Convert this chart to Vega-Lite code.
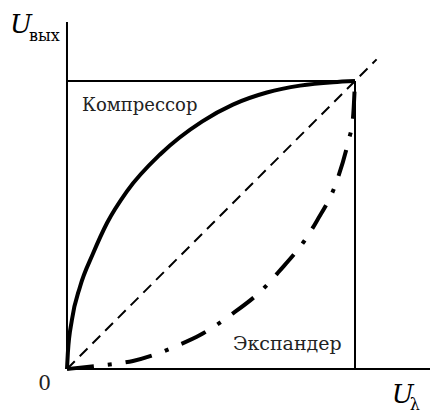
{
  "$schema": "https://vega.github.io/schema/vega-lite/v6.json",
  "width": 430,
  "height": 411,
  "padding": 0,
  "autosize": {"type": "none"},
  "background": "white",
  "config": {"view": {"stroke": null}},
  "datasets": {
    "frame": [
      {"x": 0, "y": 0, "x2": 0, "y2": 1.205},
      {"x": 0, "y": 0, "x2": 1.27, "y2": 0},
      {"x": 0, "y": 1, "x2": 1, "y2": 1},
      {"x": 1, "y": 0, "x2": 1, "y2": 1}
    ],
    "diag": [
      {"x": 0, "y": 0},
      {"x": 1.075, "y": 1.075}
    ],
    "compressor": [
      {"x": 0, "y": 0},
      {"x": 0.003, "y": 0.056},
      {"x": 0.017, "y": 0.17},
      {"x": 0.045, "y": 0.285},
      {"x": 0.09, "y": 0.4},
      {"x": 0.139, "y": 0.507},
      {"x": 0.208, "y": 0.617},
      {"x": 0.323, "y": 0.745},
      {"x": 0.47, "y": 0.86},
      {"x": 0.576, "y": 0.918},
      {"x": 0.694, "y": 0.96},
      {"x": 0.809, "y": 0.984},
      {"x": 0.924, "y": 0.996},
      {"x": 1, "y": 1}
    ],
    "expander": [
      {"x": 0, "y": 0},
      {"x": 0.097, "y": 0.01},
      {"x": 0.16, "y": 0.017},
      {"x": 0.229, "y": 0.028},
      {"x": 0.316, "y": 0.054},
      {"x": 0.375, "y": 0.078},
      {"x": 0.462, "y": 0.118},
      {"x": 0.569, "y": 0.188},
      {"x": 0.688, "y": 0.285},
      {"x": 0.733, "y": 0.335},
      {"x": 0.833, "y": 0.458},
      {"x": 0.868, "y": 0.515},
      {"x": 0.938, "y": 0.656},
      {"x": 0.976, "y": 0.788},
      {"x": 0.993, "y": 0.872},
      {"x": 1, "y": 1}
    ],
    "labels": [
      {"x": -0.198, "y": 1.1667, "t": "U", "kind": "bigU"},
      {"x": -0.132, "y": 1.139, "t": "вых", "kind": "sub"},
      {"x": 1.128, "y": -0.118, "t": "U", "kind": "bigU"},
      {"x": 1.19, "y": -0.142, "t": "λ", "kind": "sub"},
      {"x": -0.1, "y": -0.073, "t": "0", "kind": "zero"},
      {"x": 0.052, "y": 0.896, "t": "Компрессор", "kind": "comp"},
      {"x": 0.576, "y": 0.066, "t": "Экспандер", "kind": "exp"}
    ]
  },
  "layer": [
    {
      "data": {"name": "frame"},
      "mark": {"type": "rule", "color": "black", "strokeWidth": 2},
      "encoding": {
        "x": {"field": "x", "type": "quantitative", "scale": {"domain": [-0.2326, 1.2604], "nice": false, "zero": false}, "axis": null},
        "y": {"field": "y", "type": "quantitative", "scale": {"domain": [-0.1458, 1.28125], "nice": false, "zero": false}, "axis": null},
        "x2": {"field": "x2"},
        "y2": {"field": "y2"}
      }
    },
    {
      "data": {"name": "diag"},
      "mark": {"type": "line", "color": "black", "strokeWidth": 2, "strokeDash": [11, 7]},
      "encoding": {
        "x": {"field": "x", "type": "quantitative"},
        "y": {"field": "y", "type": "quantitative"}
      }
    },
    {
      "data": {"name": "compressor"},
      "mark": {"type": "line", "color": "black", "strokeWidth": 4, "interpolate": "monotone"},
      "encoding": {
        "x": {"field": "x", "type": "quantitative"},
        "y": {"field": "y", "type": "quantitative"}
      }
    },
    {
      "data": {"name": "expander"},
      "mark": {"type": "line", "color": "black", "strokeWidth": 4, "interpolate": "monotone", "strokeDash": [27, 14, 4, 14]},
      "encoding": {
        "x": {"field": "x", "type": "quantitative"},
        "y": {"field": "y", "type": "quantitative"}
      }
    },
    {
      "data": {"name": "labels"},
      "transform": [{"filter": "datum.kind == 'bigU'"}],
      "mark": {"type": "text", "font": "DejaVu Serif", "fontStyle": "italic", "fontSize": 26, "align": "left", "baseline": "alphabetic", "color": "black"},
      "encoding": {
        "x": {"field": "x", "type": "quantitative"},
        "y": {"field": "y", "type": "quantitative"},
        "text": {"field": "t"}
      }
    },
    {
      "data": {"name": "labels"},
      "transform": [{"filter": "datum.kind == 'sub'"}],
      "mark": {"type": "text", "font": "DejaVu Serif", "fontSize": 16, "align": "left", "baseline": "alphabetic", "color": "black"},
      "encoding": {
        "x": {"field": "x", "type": "quantitative"},
        "y": {"field": "y", "type": "quantitative"},
        "text": {"field": "t"}
      }
    },
    {
      "data": {"name": "labels"},
      "transform": [{"filter": "datum.kind == 'zero'"}],
      "mark": {"type": "text", "font": "DejaVu Serif", "fontSize": 20, "align": "left", "baseline": "alphabetic", "color": "#222"},
      "encoding": {
        "x": {"field": "x", "type": "quantitative"},
        "y": {"field": "y", "type": "quantitative"},
        "text": {"field": "t"}
      }
    },
    {
      "data": {"name": "labels"},
      "transform": [{"filter": "datum.kind == 'comp'"}],
      "mark": {"type": "text", "font": "DejaVu Serif", "fontSize": 18, "align": "left", "baseline": "alphabetic", "color": "#222"},
      "encoding": {
        "x": {"field": "x", "type": "quantitative"},
        "y": {"field": "y", "type": "quantitative"},
        "text": {"field": "t"}
      }
    },
    {
      "data": {"name": "labels"},
      "transform": [{"filter": "datum.kind == 'exp'"}],
      "mark": {"type": "text", "font": "DejaVu Serif", "fontSize": 19, "align": "left", "baseline": "alphabetic", "color": "#222"},
      "encoding": {
        "x": {"field": "x", "type": "quantitative"},
        "y": {"field": "y", "type": "quantitative"},
        "text": {"field": "t"}
      }
    }
  ]
}
